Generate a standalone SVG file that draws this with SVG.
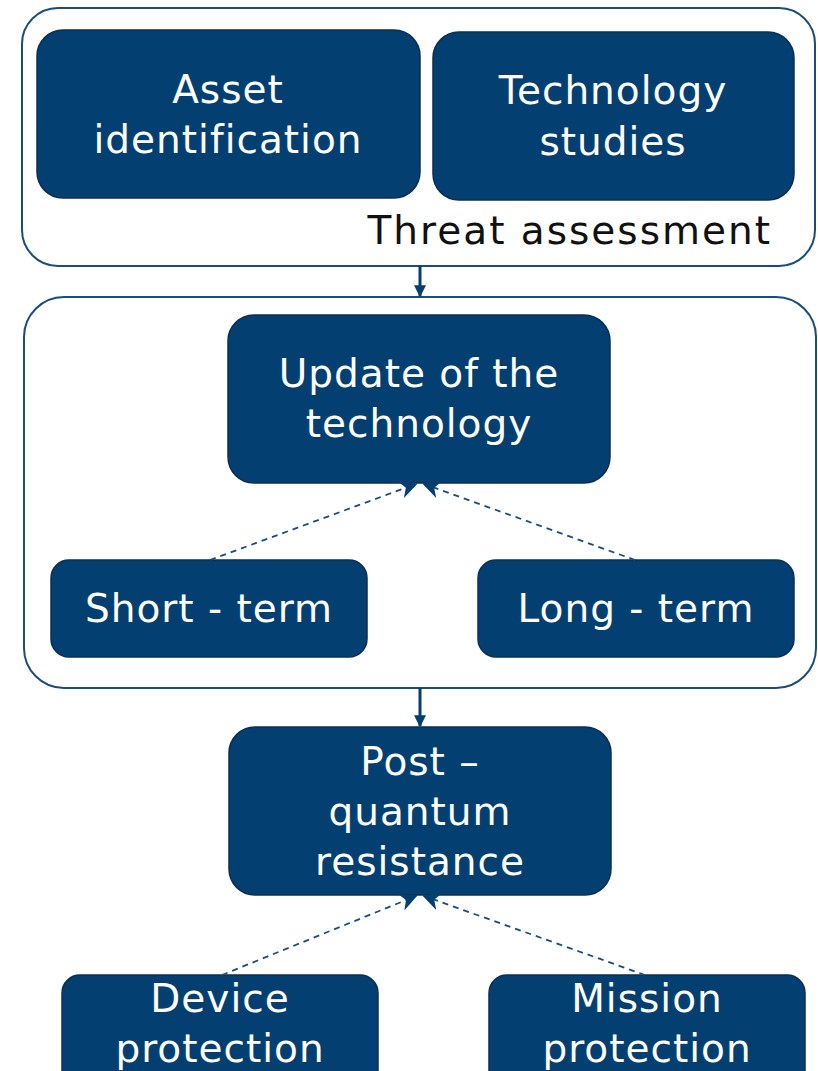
<svg xmlns="http://www.w3.org/2000/svg" width="818" height="1071" viewBox="0 0 818 1071">
  <style>
    .frame { fill: #ffffff; stroke: #1b4d7b; stroke-width: 2; }
    .node { fill: #043f71; stroke: #0a2f52; stroke-width: 1.5; }
    .label { font-family: "DejaVu Sans", "Liberation Sans", sans-serif; font-size: 39px; letter-spacing: 1px; fill: #ffffff; text-anchor: middle; }
    .caption { font-family: "DejaVu Sans", "Liberation Sans", sans-serif; font-size: 39px; letter-spacing: 2px; fill: #111111; text-anchor: end; }
    .solid { stroke: #043f71; stroke-width: 3; fill: none; }
    .dashed { stroke: #1b4d7b; stroke-width: 1.8; stroke-dasharray: 6 5; fill: none; }
  </style>
  <defs>
    <marker id="arrow" viewBox="0 0 10 10" refX="9" refY="5" markerWidth="4" markerHeight="4" orient="auto" markerUnits="strokeWidth">
      <path d="M0,0 L10,5 L0,10 z" fill="#043f71"/>
    </marker>
    <marker id="tip" viewBox="0 0 10 10" refX="9" refY="5" markerWidth="10" markerHeight="10" orient="auto" markerUnits="strokeWidth">
      <path d="M0,0 L10,5 L0,10 L3,5 z" fill="#043f71"/>
    </marker>
  </defs>

  <!-- Threat assessment group -->
  <g id="threat-assessment">
    <rect class="frame" x="22" y="8" width="793" height="258" rx="36"/>
    <text class="caption" x="772" y="244">Threat assessment</text>
  </g>
  <g id="asset-identification">
    <rect class="node" x="37" y="30" width="383" height="168" rx="26"/>
    <text class="label" x="228" y="103">Asset</text>
    <text class="label" x="228" y="153">identification</text>
  </g>
  <g id="technology-studies">
    <rect class="node" x="433" y="32" width="361" height="168" rx="26"/>
    <text class="label" x="613" y="104">Technology</text>
    <text class="label" x="613" y="155">studies</text>
  </g>

  <!-- Technology update group -->
  <g id="update-frame">
    <rect class="frame" x="24" y="297" width="792" height="391" rx="40"/>
  </g>
  <g id="update-technology">
    <rect class="node" x="228" y="315" width="382" height="168" rx="26"/>
    <text class="label" x="419" y="387">Update of the</text>
    <text class="label" x="419" y="437">technology</text>
  </g>
  <g id="short-term">
    <rect class="node" x="51" y="560" width="316" height="97" rx="18"/>
    <text class="label" x="209" y="622">Short - term</text>
  </g>
  <g id="long-term">
    <rect class="node" x="478" y="560" width="316" height="97" rx="18"/>
    <text class="label" x="636" y="622">Long - term</text>
  </g>

  <!-- Post-quantum stage -->
  <g id="post-quantum">
    <rect class="node" x="229" y="727" width="382" height="168" rx="26"/>
    <text class="label" x="420" y="775">Post –</text>
    <text class="label" x="420" y="825">quantum</text>
    <text class="label" x="420" y="875">resistance</text>
  </g>
  <g id="device-protection">
    <rect class="node" x="62" y="975" width="316" height="120" rx="18"/>
    <text class="label" x="220" y="1012">Device</text>
    <text class="label" x="220" y="1062">protection</text>
  </g>
  <g id="mission-protection">
    <rect class="node" x="489" y="975" width="316" height="120" rx="18"/>
    <text class="label" x="647" y="1012">Mission</text>
    <text class="label" x="647" y="1062">protection</text>
  </g>

  <!-- Connectors -->
  <g id="connectors">
    <line class="solid" x1="420" y1="266" x2="420" y2="296" marker-end="url(#arrow)"/>
    <line class="solid" x1="420" y1="688" x2="420" y2="726" marker-end="url(#arrow)"/>
    <line class="dashed" x1="210" y1="560" x2="416" y2="484" marker-end="url(#tip)"/>
    <line class="dashed" x1="635" y1="560" x2="424" y2="484" marker-end="url(#tip)"/>
    <line class="dashed" x1="222" y1="975" x2="416" y2="896" marker-end="url(#tip)"/>
    <line class="dashed" x1="645" y1="975" x2="424" y2="896" marker-end="url(#tip)"/>
  </g>
</svg>
